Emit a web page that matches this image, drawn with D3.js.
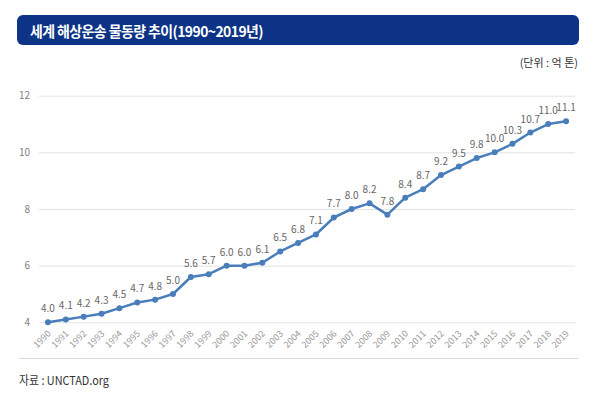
<!DOCTYPE html>
<html>
<head>
<meta charset="utf-8">
<script src="https://cdn.jsdelivr.net/npm/d3@7"></script>
<style>
	body { margin: 0; background: #fff; }
	text { font-family: 'Noto Sans CJK KR', 'Noto Sans', sans-serif; }
</style>
</head>
<body>
<svg id="svg" width="611" height="408"></svg>
<script>
// data
const years = ['1990', '1991', '1992', '1993', '1994', '1995', '1996', '1997', '1998', '1999',
	'2000', '2001', '2002', '2003', '2004', '2005', '2006', '2007', '2008', '2009',
	'2010', '2011', '2012', '2013', '2014', '2015', '2016', '2017', '2018', '2019'];
const volume = [4.0, 4.1, 4.2, 4.3, 4.5, 4.7, 4.8, 5.0, 5.6, 5.7,
	6.0, 6.0, 6.1, 6.5, 6.8, 7.1, 7.7, 8.0, 8.2, 7.8,
	8.4, 8.7, 9.2, 9.5, 9.8, 10.0, 10.3, 10.7, 11.0, 11.1];
const yTicks = [4, 6, 8, 10, 12];

const data = years.map((y, i) => ({ year: y, value: volume[i] }));

const svg = d3.select('#svg');

// title bar
svg.append('rect')
	.attr('x', 17).attr('y', 15)
	.attr('width', 562).attr('height', 30)
	.attr('rx', 6)
	.attr('fill', '#0c3385');

svg.append('text')
	.attr('x', 30).attr('y', 36.5)
	.attr('fill', '#fff')
	.attr('font-size', 14.5)
	.attr('font-weight', 'bold')
	.attr('letter-spacing', -0.6)
	.attr('textLength', 233)
	.attr('lengthAdjust', 'spacingAndGlyphs')
	.text('세계 해상운송 물동량 추이(1990~2019년)');

svg.append('text')
	.attr('x', 578).attr('y', 67)
	.attr('text-anchor', 'end')
	.attr('fill', '#333')
	.attr('font-size', 11)
	.text('(단위 : 억 톤)');

// scales
const xscale = d3.scalePoint()
	.domain(years)
	.range([39, 575])
	.padding(0.5);

const yscale = d3.scaleLinear()
	.domain([4, 12])
	.range([322.3, 95.7]);

// grid + y labels
const leftAxis = d3.axisLeft(yscale)
	.tickValues(yTicks)
	.tickSize(-(575 - 39))
	.tickPadding(9)
	.tickFormat(d3.format('d'));

const yg = svg.append('g')
	.attr('transform', 'translate(39, 0)')
	.call(leftAxis);
yg.select('.domain').remove();
yg.selectAll('.tick line').attr('stroke', '#e3e3e3').attr('stroke-width', 1);
yg.selectAll('.tick text')
	.attr('fill', '#7f7f7f')
	.attr('font-size', 10)
	.attr('font-family', "'Noto Sans', sans-serif");

// x labels
const bottomAxis = d3.axisBottom(xscale).tickSize(0).tickPadding(0);
const xg = svg.append('g')
	.attr('transform', 'translate(0, 322.3)')
	.call(bottomAxis);
xg.select('.domain').remove();
xg.selectAll('.tick text')
	.attr('fill', '#999')
	.attr('font-size', 9)
	.attr('font-family', "'Noto Sans', sans-serif")
	.attr('text-anchor', 'end')
	.attr('dy', 0)
	.attr('transform', 'translate(3, 12) rotate(-45)');

// line
const line = d3.line()
	.x((d) => xscale(d.year))
	.y((d) => yscale(d.value));

svg.append('path')
	.datum(data)
	.attr('fill', 'none')
	.attr('stroke', '#4a7ebb')
	.attr('stroke-width', 2.5)
	.attr('stroke-linejoin', 'round')
	.attr('d', line);

svg.append('g')
	.selectAll('circle')
	.data(data)
	.enter()
	.append('circle')
	.attr('cx', (d) => xscale(d.year))
	.attr('cy', (d) => yscale(d.value))
	.attr('r', 3)
	.attr('fill', '#4a7ebb');

// value labels
svg.append('g')
	.selectAll('text')
	.data(data)
	.enter()
	.append('text')
	.attr('x', (d) => xscale(d.year))
	.attr('y', (d) => yscale(d.value) - 10)
	.attr('text-anchor', 'middle')
	.attr('fill', '#666')
	.attr('font-size', 10)
	.attr('font-family', "'Noto Sans', sans-serif")
	.text((d) => d.value.toFixed(1));

// bottom rule + source
svg.append('line')
	.attr('x1', 19).attr('x2', 578)
	.attr('y1', 358.5).attr('y2', 358.5)
	.attr('stroke', '#d9d9d9');

svg.append('text')
	.attr('x', 19).attr('y', 385)
	.attr('fill', '#333')
	.attr('font-size', 12)
	.attr('textLength', 90)
	.attr('lengthAdjust', 'spacingAndGlyphs')
	.text('자료 : UNCTAD.org');
</script>
</body>
</html>
